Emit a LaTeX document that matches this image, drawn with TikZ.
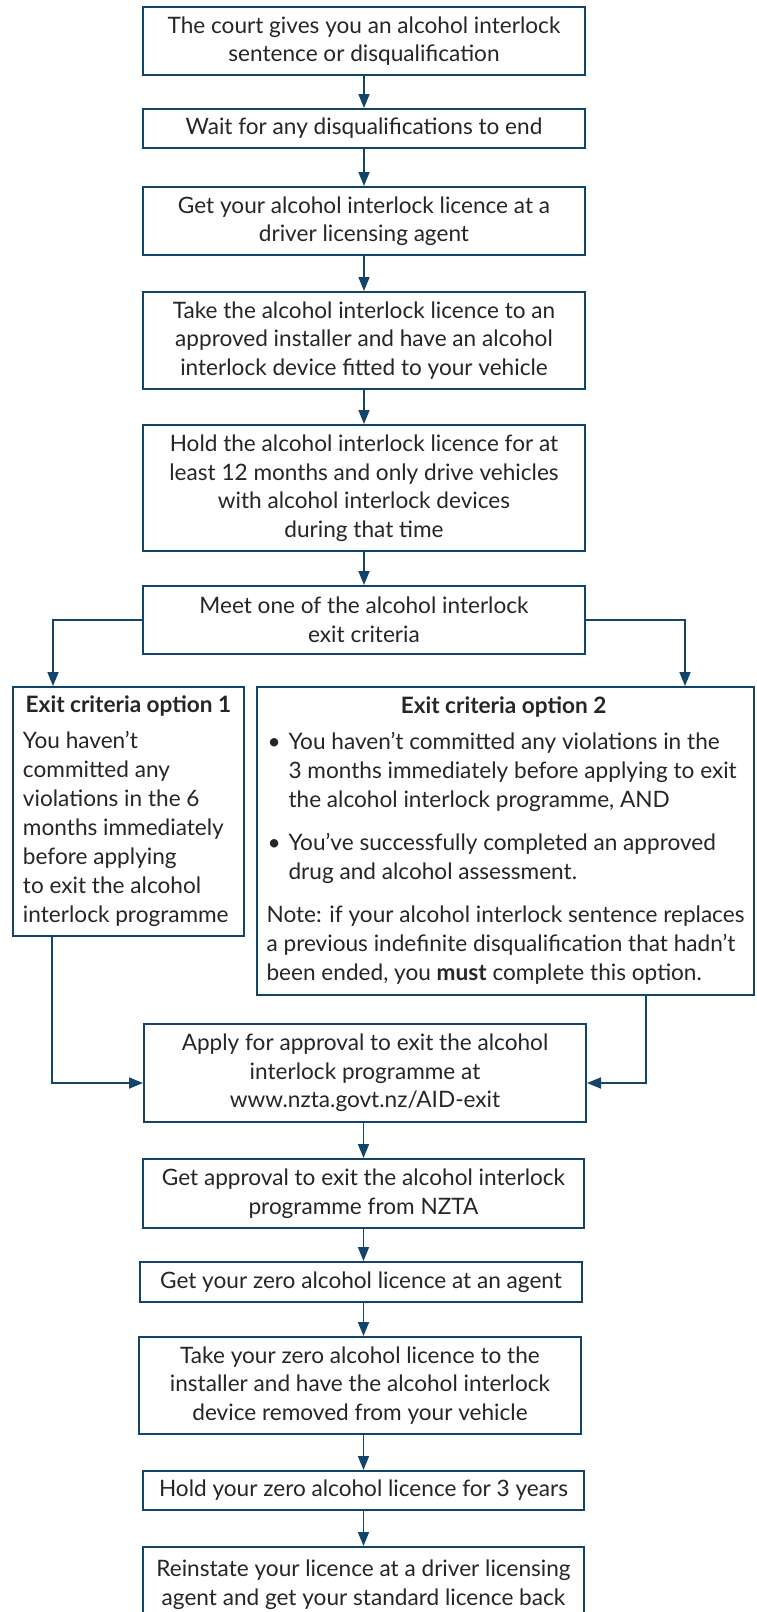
\documentclass[tikz,border=0pt]{standalone}
\usepackage{fontspec}
\setmainfont{Lato}
\usetikzlibrary{arrows.meta,calc}
\definecolor{navy}{HTML}{134469}
\definecolor{txt}{HTML}{262626}
\tikzset{
  stepbox/.style={draw=navy, line width=2pt, fill=white, text=txt, align=center, inner sep=0pt,
    font=\fontsize{22.6}{28.5}\selectfont},
  optbox/.style={draw=navy, line width=2pt, fill=white, text=txt, align=left, inner sep=0pt,
    font=\fontsize{22.6}{29}\selectfont},
  conn/.style={draw=navy, line width=1.7pt, -{Triangle[length=14pt,width=11pt]}},
}
\begin{document}
\begin{tikzpicture}[x=1pt,y=-1pt]
\clip (0,0) rectangle (756,1612);
\fill[white] (0,0) rectangle (756,1612);

\node[stepbox, minimum width=442pt, minimum height=68pt] (b1) at (364,41)
  {The court gives you an alcohol interlock\\ sentence or disqualification};
\node[stepbox, minimum width=442pt, minimum height=39pt] (b2) at (364,128.5)
  {Wait for any disqualifications to end};
\node[stepbox, minimum width=442pt, minimum height=68pt] (b3) at (364,221)
  {Get your alcohol interlock licence at a\\ driver licensing agent};
\node[stepbox, minimum width=442pt, minimum height=97pt] (b4) at (364,340.5)
  {Take the alcohol interlock licence to an\\ approved installer and have an alcohol\\ interlock device fitted to your vehicle};
\node[stepbox, minimum width=442pt, minimum height=126pt] (b5) at (364,488)
  {Hold the alcohol interlock licence for at\\ least 12 months and only drive vehicles\\ with alcohol interlock devices\\ during that time};
\node[stepbox, minimum width=442pt, minimum height=68pt] (b6) at (364,620)
  {Meet one of the alcohol interlock\\ exit criteria};

\node[optbox, minimum width=231pt, minimum height=249pt] (o1) at (128.5,811.5)
  {\makebox[211pt][c]{\bfseries Exit criteria option 1}\\[7pt]
   You haven’t\\ committed any\\ violations in the 6\\ months immediately\\ before applying\\ to exit the alcohol\\ interlock programme};

\node[optbox, minimum width=497pt, minimum height=308pt] (o2) at (505.5,841)
  {\makebox[474pt][c]{\bfseries Exit criteria option 2}\\[7pt]
   \makebox[22pt][l]{\hspace{1pt}•}You haven’t committed any violations in the\\
   \hspace*{22pt}3 months immediately before applying to exit\\
   \hspace*{22pt}the alcohol interlock programme, AND\\[14pt]
   \makebox[22pt][l]{\hspace{1pt}•}You’ve successfully completed an approved\\
   \hspace*{22pt}drug and alcohol assessment.\\[14pt]
   Note: if your alcohol interlock sentence replaces\\
   a previous indefinite disqualification that hadn’t\\
   been ended, you \textbf{must} complete this option.};

\node[stepbox, minimum width=442pt, minimum height=98pt] (ap) at (365,1073)
  {Apply for approval to exit the alcohol\\ interlock programme at\\ www.nzta.govt.nz/AID-exit};
\node[stepbox, minimum width=441pt, minimum height=69pt] (ga) at (363.5,1193.5)
  {Get approval to exit the alcohol interlock\\ programme from NZTA};
\node[stepbox, minimum width=442pt, minimum height=40pt] (za) at (361,1282)
  {Get your zero alcohol licence at an agent};
\node[stepbox, minimum width=442pt, minimum height=97pt] (tz) at (360,1385.5)
  {Take your zero alcohol licence to the\\ installer and have the alcohol interlock\\ device removed from your vehicle};
\node[stepbox, minimum width=441pt, minimum height=39pt] (hz) at (363.5,1490.5)
  {Hold your zero alcohol licence for 3 years};
\node[stepbox, minimum width=441pt, minimum height=75pt] (rl) at (363.5,1584.5)
  {Reinstate your licence at a driver licensing\\ agent and get your standard licence back};

% vertical flow
\draw[conn] (b1.south) -- (b1.south |- b2.north);
\draw[conn] (b2.south) -- (b2.south |- b3.north);
\draw[conn] (b3.south) -- (b3.south |- b4.north);
\draw[conn] (b4.south) -- (b4.south |- b5.north);
\draw[conn] (b5.south) -- (b5.south |- b6.north);

% branches
\draw[conn] (b6.west) -| ($(o1.north west)+(41,0)$);
\draw[conn] (b6.east) -| ($(o2.north east)+(-70,0)$);
\draw[conn] ($(o1.south west)+(40,0)$) |- ($(ap.west)+(0,10)$);
\draw[conn] ($(o2.south west)+(389.7,0)$) |- ($(ap.east)+(0,10)$);

\draw[conn] (363.5,0 |- ap.south) -- (363.5,0 |- ga.north);
\draw[conn] (363.5,0 |- ga.south) -- (363.5,0 |- za.north);
\draw[conn] (363.5,0 |- za.south) -- (363.5,0 |- tz.north);
\draw[conn] (363.5,0 |- tz.south) -- (363.5,0 |- hz.north);
\draw[conn] (363.5,0 |- hz.south) -- (363.5,0 |- rl.north);
\end{tikzpicture}
\end{document}
